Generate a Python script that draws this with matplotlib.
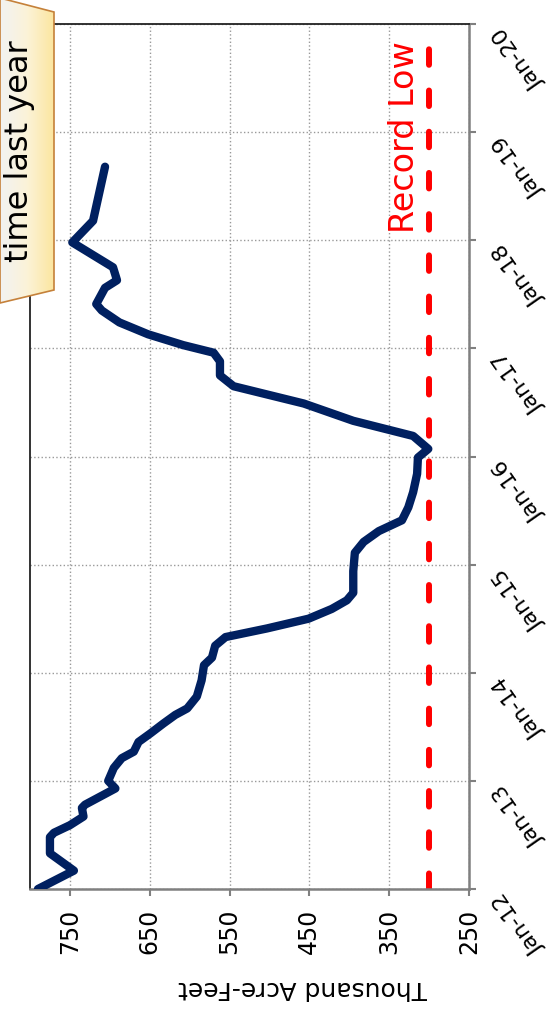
import matplotlib.pyplot as plt
import numpy as np
from matplotlib.patches import Polygon
from matplotlib.colors import LinearSegmentedColormap

# storage readings (decimal year, thousand acre-feet)
years = [2012.00, 2012.17, 2012.33, 2012.48, 2012.52, 2012.59, 2012.67, 2012.75,
         2012.78, 2012.93, 2013.00, 2013.12, 2013.21, 2013.27, 2013.36, 2013.44,
         2013.53, 2013.61, 2013.67, 2013.78, 2013.93, 2014.07, 2014.14, 2014.25,
         2014.33, 2014.41, 2014.50, 2014.59, 2014.67, 2014.74, 2014.94, 2015.11,
         2015.21, 2015.31, 2015.41, 2015.53, 2015.67, 2015.84, 2015.99, 2016.07,
         2016.19, 2016.33, 2016.49, 2016.65, 2016.75, 2016.88, 2016.96, 2017.03,
         2017.13, 2017.24, 2017.35, 2017.41, 2017.56, 2017.63, 2017.75, 2017.98,
         2018.18, 2018.68]
storage = [790, 745, 775, 775, 770, 750, 733, 735,
           731, 693, 702, 695, 685, 670, 664, 649,
           633, 618, 603, 591, 585, 582, 572, 568,
           555, 503, 451, 422, 403, 395, 395, 393,
           382, 363, 334, 326, 320, 315, 314, 301,
           320, 395, 457, 545, 562, 562, 570, 608,
           652, 688, 710, 717, 706, 691, 696, 747,
           721, 706]
record_low = 300

date_ticks = [2012, 2013, 2014, 2015, 2016, 2017, 2018, 2019, 2020]
date_labels = ['Jan-12', 'Jan-13', 'Jan-14', 'Jan-15', 'Jan-16',
               'Jan-17', 'Jan-18', 'Jan-19', 'Jan-20']
value_ticks = [750, 650, 550, 450, 350, 250]

W, H = 548, 1014
fig = plt.figure(figsize=(W / 100, H / 100), dpi=100)

# the chart is drawn turned on its side: values across, time upwards
ax = fig.add_axes([30 / W, 1 - 889 / H, (469 - 30) / W, (889 - 24) / H])
ax.plot(storage, years, color='#002060', lw=6, solid_joinstyle='round',
        solid_capstyle='round', zorder=3)
ax.axvline(record_low, color='#FF0000', lw=4.3, linestyle=(0, (2.6, 4.3)),
           dash_capstyle='round', zorder=2)
ax.text(0.852, 0.758, 'Record Low', transform=ax.transAxes, rotation=90,
        ha='center', va='bottom', color='#FF0000', fontsize=24)

ax.set_xlim(800, 250)
ax.set_ylim(2012, 2020)
ax.set_xticks(value_ticks)
ax.set_xticklabels([str(v) for v in value_ticks], rotation=90, fontsize=17)
ax.set_yticks(date_ticks)
ax.yaxis.tick_right()
ax.set_yticklabels([])
# date labels turned upside down like the rest of the picture
for d, lab in zip(date_ticks, date_labels):
    ax.text(1.05, d, lab, transform=ax.get_yaxis_transform(), rotation=125,
            rotation_mode='default', ha='left', va='top', fontsize=16,
            clip_on=False)
ax.tick_params(axis='x', length=5, width=1.5, color='#808080', pad=9)
ax.tick_params(axis='y', length=5, width=1.5, color='#808080')
ax.grid(True, linestyle=':', color='#999999', lw=1)
for side in ['top', 'left']:
    ax.spines[side].set_color('#222222')
    ax.spines[side].set_linewidth(1.3)
for side in ['right', 'bottom']:
    ax.spines[side].set_color('#808080')
    ax.spines[side].set_linewidth(1.8)

fig.text(303 / W, 1 - 988 / H, 'Thousand Acre-Feet', rotation=180,
         ha='center', va='center', fontsize=18)

# callout box cut off at the top left
ov = fig.add_axes([0, 0, 1, 1], zorder=5)
ov.patch.set_alpha(0)
shape = Polygon([(0, -2), (54, 12), (54, 290), (0, 303)], closed=True,
                facecolor='none', edgecolor='#C5813A', lw=1.2, zorder=3)
ov.add_patch(shape)
grad = np.linspace(0, 1, 100).reshape(1, -1)
cmap = LinearSegmentedColormap.from_list('callout', ['#F2F2F2', '#FBF3D8', '#FCE6A0'])
im = ov.imshow(grad, extent=(0, 54, 303, -2), cmap=cmap, aspect='auto', zorder=1)
im.set_clip_path(shape)
ov.text(20, 151, 'time last year', rotation=90, ha='center', va='center',
        fontsize=23, color='black', zorder=4)
ov.set_xlim(0, W)
ov.set_ylim(H, 0)
ov.axis('off')

fig.savefig('out.png', dpi=100)
